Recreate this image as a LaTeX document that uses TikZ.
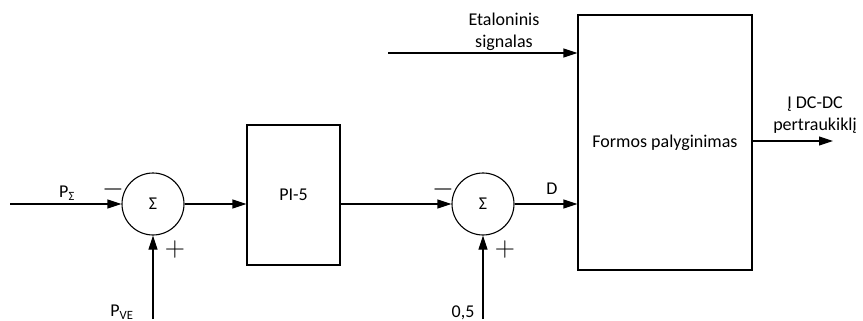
\documentclass[tikz,border=0pt]{standalone}
\usepackage{fix-cm}
\usepackage{fontspec}
\setmainfont{Carlito}
\usetikzlibrary{arrows.meta}

\begin{document}
\begin{tikzpicture}[x=1pt,y=-1pt,font=\fontsize{18}{22}\selectfont,
	sig/.style={-{Triangle[length=14pt,width=9pt]},line width=1.1pt},
	sign/.style={font=\fontsize{28}{32}\selectfont,inner sep=0pt}]
	\useasboundingbox (0,0) rectangle (863,321);
	
	\begin{scope}[every node/.style={draw,line width=1.1pt,inner sep=0pt}]
	\node[circle,minimum size=62pt] (S1) at (153,204) {Σ};
	\node[circle,minimum size=62pt] (S2) at (483,204) {Σ};
	\node[minimum width=93pt,minimum height=140pt] (PI) at (293.5,195) {PI-5};
	\node[minimum width=174pt,minimum height=255pt] (F) at (665,142.5) {Formos palyginimas};
	\end{scope}
	
	\coordinate (in1) at (10,204);
	\coordinate (in2) at (153,319);
	\coordinate (in3) at (483,319);
	\coordinate (et) at (388,53);
	\coordinate (out) at (833,141);
	
	\node (lP) at (67,193) {P\textsubscript{Σ}};
	\node (lPVE) at (122,312) {P\textsubscript{VE}};
	\node (l05) at (463,313) {0,5};
	\node (lD) at (552,189) {D};
	\node[align=center] (lEt) at (504,32) {Etaloninis\\signalas};
	\node[align=center] (lOut) at (815,115) {Į DC-DC\\pertraukiklį};
	
	\node[sign] (m1) at (113,189) {$-$};
	\node[sign] (p1) at (175,249) {$+$};
	\node[sign] (m2) at (443,189) {$-$};
	\node[sign] (p2) at (505,249) {$+$};
	
	\draw [sig] (in1) -- (S1);
	\draw [sig] (in2) -- (S1);
	\draw [sig] (S1) -- (PI.west |- S1);
	\draw [sig] (PI.east |- S2) -- (S2);
	\draw [sig] (in3) -- (S2);
	\draw [sig] (S2) -- (F.west |- S2);
	\draw [sig] (et) -- (F.west |- et);
	\draw [sig] (F.east |- out) -- (out);
\end{tikzpicture}
\end{document}
